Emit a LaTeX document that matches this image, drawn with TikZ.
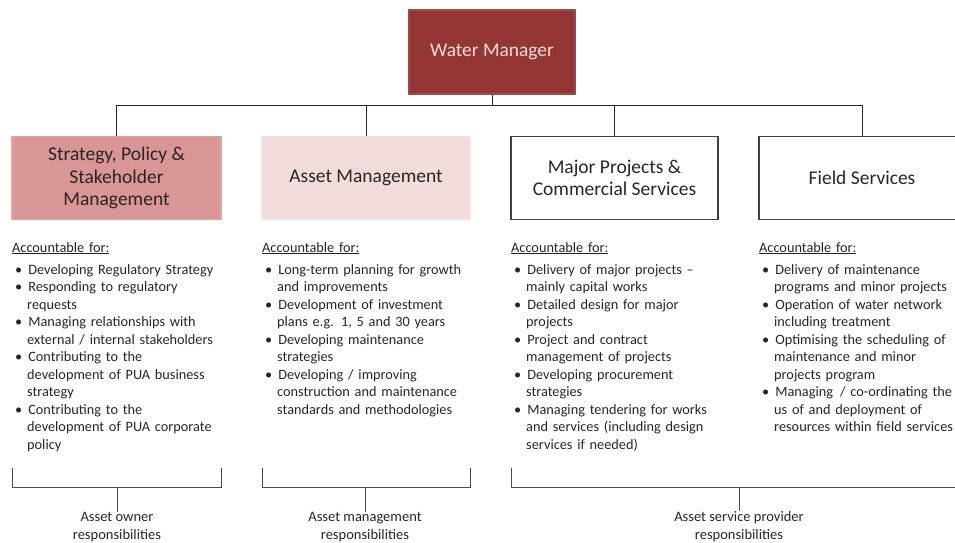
\documentclass[tikz,border=0pt]{standalone}
\usepackage{fontspec}
\setmainfont{Carlito}
\usetikzlibrary{positioning}
\definecolor{wmred}{HTML}{943634}
\definecolor{sppink}{HTML}{D99694}
\definecolor{ampink}{HTML}{F2DCDB}
\definecolor{bodytext}{HTML}{262626}
\newenvironment{acclist}{\begin{list}{\textbullet}{\leftmargin=15pt \labelwidth=6pt \labelsep=6pt \itemsep=0pt \parsep=0pt \topsep=4.5pt \partopsep=0pt}}{\end{list}}

\begin{document}
\begin{tikzpicture}[x=1pt, y=-1pt,
		unit/.style={draw, line width=1.2pt, minimum height=83pt, align=center, inner sep=2pt,
			font=\fontsize{19.5}{22.5}\selectfont, text=bodytext},
		conn/.style={line width=1pt, color=black!85},
		brace/.style={line width=1pt, color=black!70},
		duties/.style={anchor=north west, text width=235pt, inner sep=0pt, text=bodytext,
			font=\fontsize{14.3}{17.5}\selectfont},
		resp/.style={anchor=north, align=center, inner sep=0pt, text=bodytext,
			font=\fontsize{14.5}{18}\selectfont}]
			%%%%% START %%%%%
			\useasboundingbox (0,0) rectangle (955,543);
			
			\node[unit, fill=wmred, draw=wmred!90, text=ampink, minimum width=166pt, minimum height=84pt,
				font=\fontsize{19.4}{22}\selectfont] (wm) at (492, 52) {Water Manager};
			
			\node[unit, fill=sppink, draw=sppink!85!white, minimum width=209pt] (sp) at (116.5, 178) {Strategy, Policy \&\\Stakeholder\\Management};
			\node[unit, fill=ampink, draw=ampink!80!white, minimum width=208pt] (am) at (366, 178) {Asset Management};
			\node[unit, draw=black!75, minimum width=207pt] (mp) at (614.5, 178) {Major Projects \&\\Commercial Services};
			\node[unit, draw=black!75, minimum width=206pt] (fs) at (862, 178) {Field Services};
			
			\foreach \u in {sp, am, mp, fs}
				\draw[conn] (wm.south) -- ++(0, 11) -| (\u.north);
			
			% accountabilities
			\node[duties] (spacc) at (12, 242) {\underline{Accountable for:}
				\begin{acclist}
					\item Developing Regulatory Strategy
					\item Responding to regulatory\newline requests
					\item Managing relationships with\newline external / internal stakeholders
					\item Contributing to the\newline development of PUA business\newline strategy
					\item Contributing to the\newline development of PUA corporate\newline policy
				\end{acclist}};
			\node[duties] (amacc) at (262, 242) {\underline{Accountable for:}
				\begin{acclist}
					\item Long-term planning for growth\newline and improvements
					\item Development of investment\newline plans e.g. 1, 5 and 30 years
					\item Developing maintenance\newline strategies
					\item Developing / improving\newline construction and maintenance\newline standards and methodologies
				\end{acclist}};
			\node[duties] (mpacc) at (511, 242) {\underline{Accountable for:}
				\begin{acclist}
					\item Delivery of major projects --\newline mainly capital works
					\item Detailed design for major\newline projects
					\item Project and contract\newline management of projects
					\item Developing procurement\newline strategies
					\item Managing tendering for works\newline and services (including design\newline services if needed)
				\end{acclist}};
			\node[duties] (fsacc) at (759, 242) {\underline{Accountable for:}
				\begin{acclist}
					\item Delivery of maintenance\newline programs and minor projects
					\item Operation of water network\newline including treatment
					\item Optimising the scheduling of\newline maintenance and minor\newline projects program
					\item Managing\, / co-ordinating the\newline us of and deployment of\newline resources within field services
				\end{acclist}};
			
			% responsibility groups
			\draw[brace] (12, 468) -- (12, 487) -- (221, 487) -- (221, 468);
			\draw[brace] (262, 468) -- (262, 487) -- (470, 487) -- (470, 468);
			\draw[brace] (511, 468) -- (511, 487) -- (967, 487) -- (967, 468);
			
			\coordinate (ownb) at (117, 487);
			\coordinate (mgtb) at (365, 487);
			\coordinate (srvb) at (739, 487);
			
			\node[resp] (own) at (117, 512) {Asset owner\\responsibilities};
			\node[resp] (mgt) at (365, 512) {Asset management\\responsibilities};
			\node[resp] (srv) at (739, 511) {Asset service provider\\responsibilities};
			
			\draw[brace] (ownb) -- (own.north);
			\draw[brace] (mgtb) -- (mgt.north);
			\draw[brace] (srvb) -- (srv.north);
			%%%%% END %%%%%
		\end{tikzpicture}
\end{document}
